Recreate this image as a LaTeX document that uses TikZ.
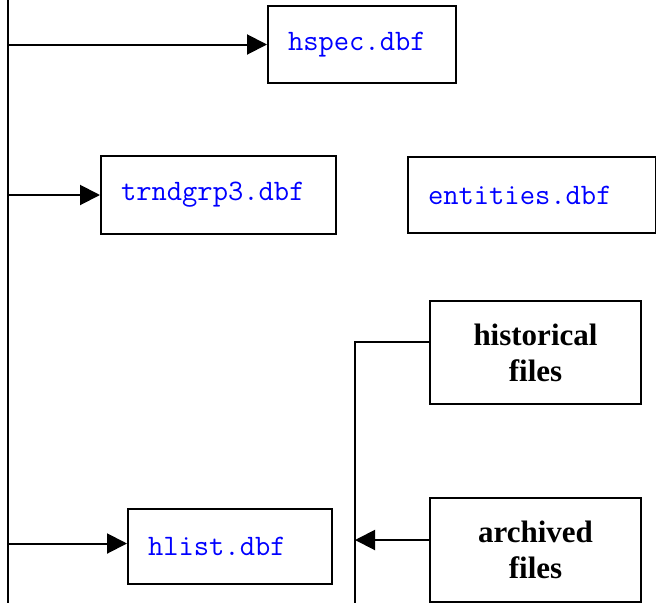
\documentclass[tikz,border=0pt]{standalone}
\usepackage{fontspec}
\setmainfont{Liberation Serif}
\usetikzlibrary{arrows.meta}
\begin{document}
\begin{tikzpicture}[x=1pt,y=-1pt,line width=2pt,
  filebox/.style={draw,line width=2pt,anchor=north west,inner xsep=20pt,inner ysep=0pt,
    align=left,font=\fontsize{29.7}{32}\selectfont\ttfamily,text=blue},
  groupbox/.style={draw,line width=2pt,anchor=north west,inner sep=0pt,
    align=center,font=\fontsize{31}{36}\selectfont\bfseries},
  arr/.style={-{Triangle[length=20pt,width=20pt]}}]
\useasboundingbox (0,0) rectangle (656,603);
% boxes
\node[filebox,text width=148pt,minimum height=77pt] (hspec) at (267,5) {hspec.dbf};
\node[filebox,text width=195pt,minimum height=78pt] (trnd) at (100,155) {trndgrp3.dbf};
\node[filebox,text width=208pt,minimum height=76pt] (ent) at (407,156) {entities.dbf};
\node[filebox,text width=164pt,minimum height=75pt] (hlist) at (127,508) {hlist.dbf};
\node[groupbox,minimum width=211pt,minimum height=103pt] (hist) at (429,300) {historical\\files};
\node[groupbox,minimum width=211pt,minimum height=104pt] (arch) at (429,497) {archived\\files};
% left trunk
\coordinate (ltop) at (8,0);
\coordinate (lbot) at (8,603);
\draw (ltop) -- (lbot);
\draw[arr] (hspec.west -| ltop) -- (hspec.west);
\draw[arr] (trnd.west -| ltop) -- (trnd.west);
\draw[arr] ([yshift=3pt]hlist.west -| ltop) -- ([yshift=3pt]hlist.west);
% middle trunk
\coordinate (mtop) at (355,342);
\coordinate (mbot) at (355,603);
\coordinate (marr) at (355,540);
\draw (hist.west |- mtop) -- (mtop) -- (mbot);
\draw[arr] (arch.west |- marr) -- (marr);
\end{tikzpicture}
\end{document}
